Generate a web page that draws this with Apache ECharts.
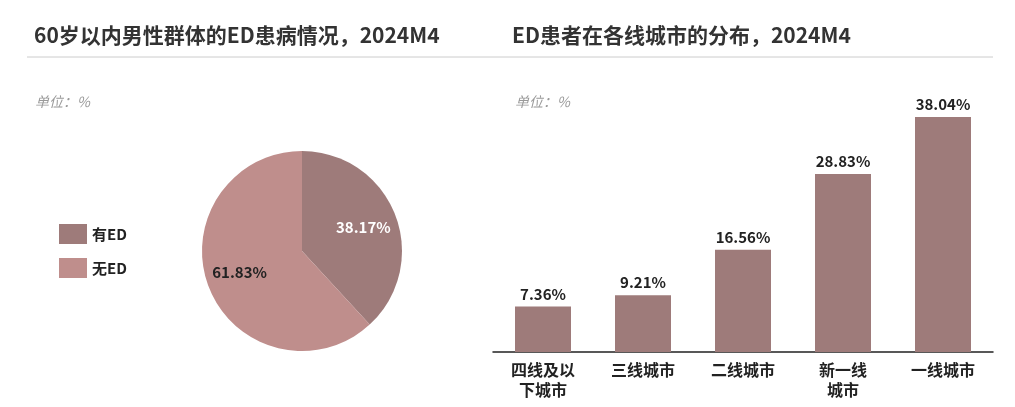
<!DOCTYPE html>
<html><head><meta charset="utf-8">
<script src="https://cdn.jsdelivr.net/npm/echarts@6/dist/echarts.min.js"></script>
<style>html,body{margin:0;padding:0;background:#fff}#c{width:1015px;height:407px}</style>
</head><body><div id="c"></div>
<script>
// 饼图：有ED / 无ED
const pieNames = ['有ED', '无ED'];
const pieValues = [38.17, 61.83];
const pieColors = ['#9e7b7a', '#bf8e8c'];
const pieLabelColors = ['#fff', '#222'];
// 柱状图：各线城市分布
const cityNames = ['四线及以\n下城市', '三线城市', '二线城市', '新一线\n城市', '一线城市'];
const cityValues = [7.36, 9.21, 16.56, 28.83, 38.04];

const chart = echarts.init(document.getElementById('c'));
const font = '"Noto Sans CJK SC", "Noto Sans", sans-serif';

chart.setOption({
  textStyle: { fontFamily: font },
  title: [
    { text: '60岁以内男性群体的ED患病情况，2024M4', left: 29, top: 20, textStyle: { fontSize: 21, fontWeight: 'bold', color: '#333', fontFamily: font } },
    { text: 'ED患者在各线城市的分布，2024M4', left: 507, top: 20, textStyle: { fontSize: 21, fontWeight: 'bold', color: '#333', fontFamily: font } },
    { text: '单位：%', left: 30, top: 90, textStyle: { fontSize: 14, fontWeight: 'normal', fontStyle: 'italic', color: '#999', fontFamily: font } },
    { text: '单位：%', left: 510, top: 90, textStyle: { fontSize: 14, fontWeight: 'normal', fontStyle: 'italic', color: '#999', fontFamily: font } }
  ],
  graphic: [
    { type: 'line', shape: { x1: 27, y1: 57, x2: 993, y2: 57 }, style: { stroke: '#ccc', lineWidth: 1 } }
  ],
  legend: {
    orient: 'vertical', left: 54, top: 219, itemGap: 14, itemWidth: 28, itemHeight: 20,
    icon: 'rect', data: pieNames,
    textStyle: { fontSize: 15, fontWeight: 'bold', color: '#222' }
  },
  grid: { left: 493, width: 500, top: 105, bottom: 55 },
  xAxis: {
    type: 'category', data: cityNames,
    axisLine: { lineStyle: { color: '#222', width: 1.5 } },
    axisTick: { show: false },
    axisLabel: { fontSize: 16, fontWeight: 'bold', color: '#222', lineHeight: 20, margin: 8 }
  },
  yAxis: { type: 'value', min: 0, max: 40, show: false, splitLine: { show: false } },
  series: [
    {
      type: 'pie', center: [302, 251], radius: 100, startAngle: 90, clockwise: true,
      data: pieNames.map((n, i) => ({ name: n, value: pieValues[i], itemStyle: { color: pieColors[i] },
        label: { color: pieLabelColors[i], offset: i === 0 ? [12, -4] : [-13, 2] } })),
      label: { position: 'inside', formatter: p => p.value.toFixed(2) + '%', fontSize: 15, fontWeight: 'bold', overflow: 'none' },
      emphasis: { disabled: true }
    },
    {
      type: 'bar', data: cityValues, barWidth: 56,
      itemStyle: { color: '#9e7b7a' },
      label: { show: true, position: 'top', formatter: p => p.value.toFixed(2) + '%', fontSize: 15, fontWeight: 'bold', color: '#222' }
    }
  ]
});
</script></body></html>
